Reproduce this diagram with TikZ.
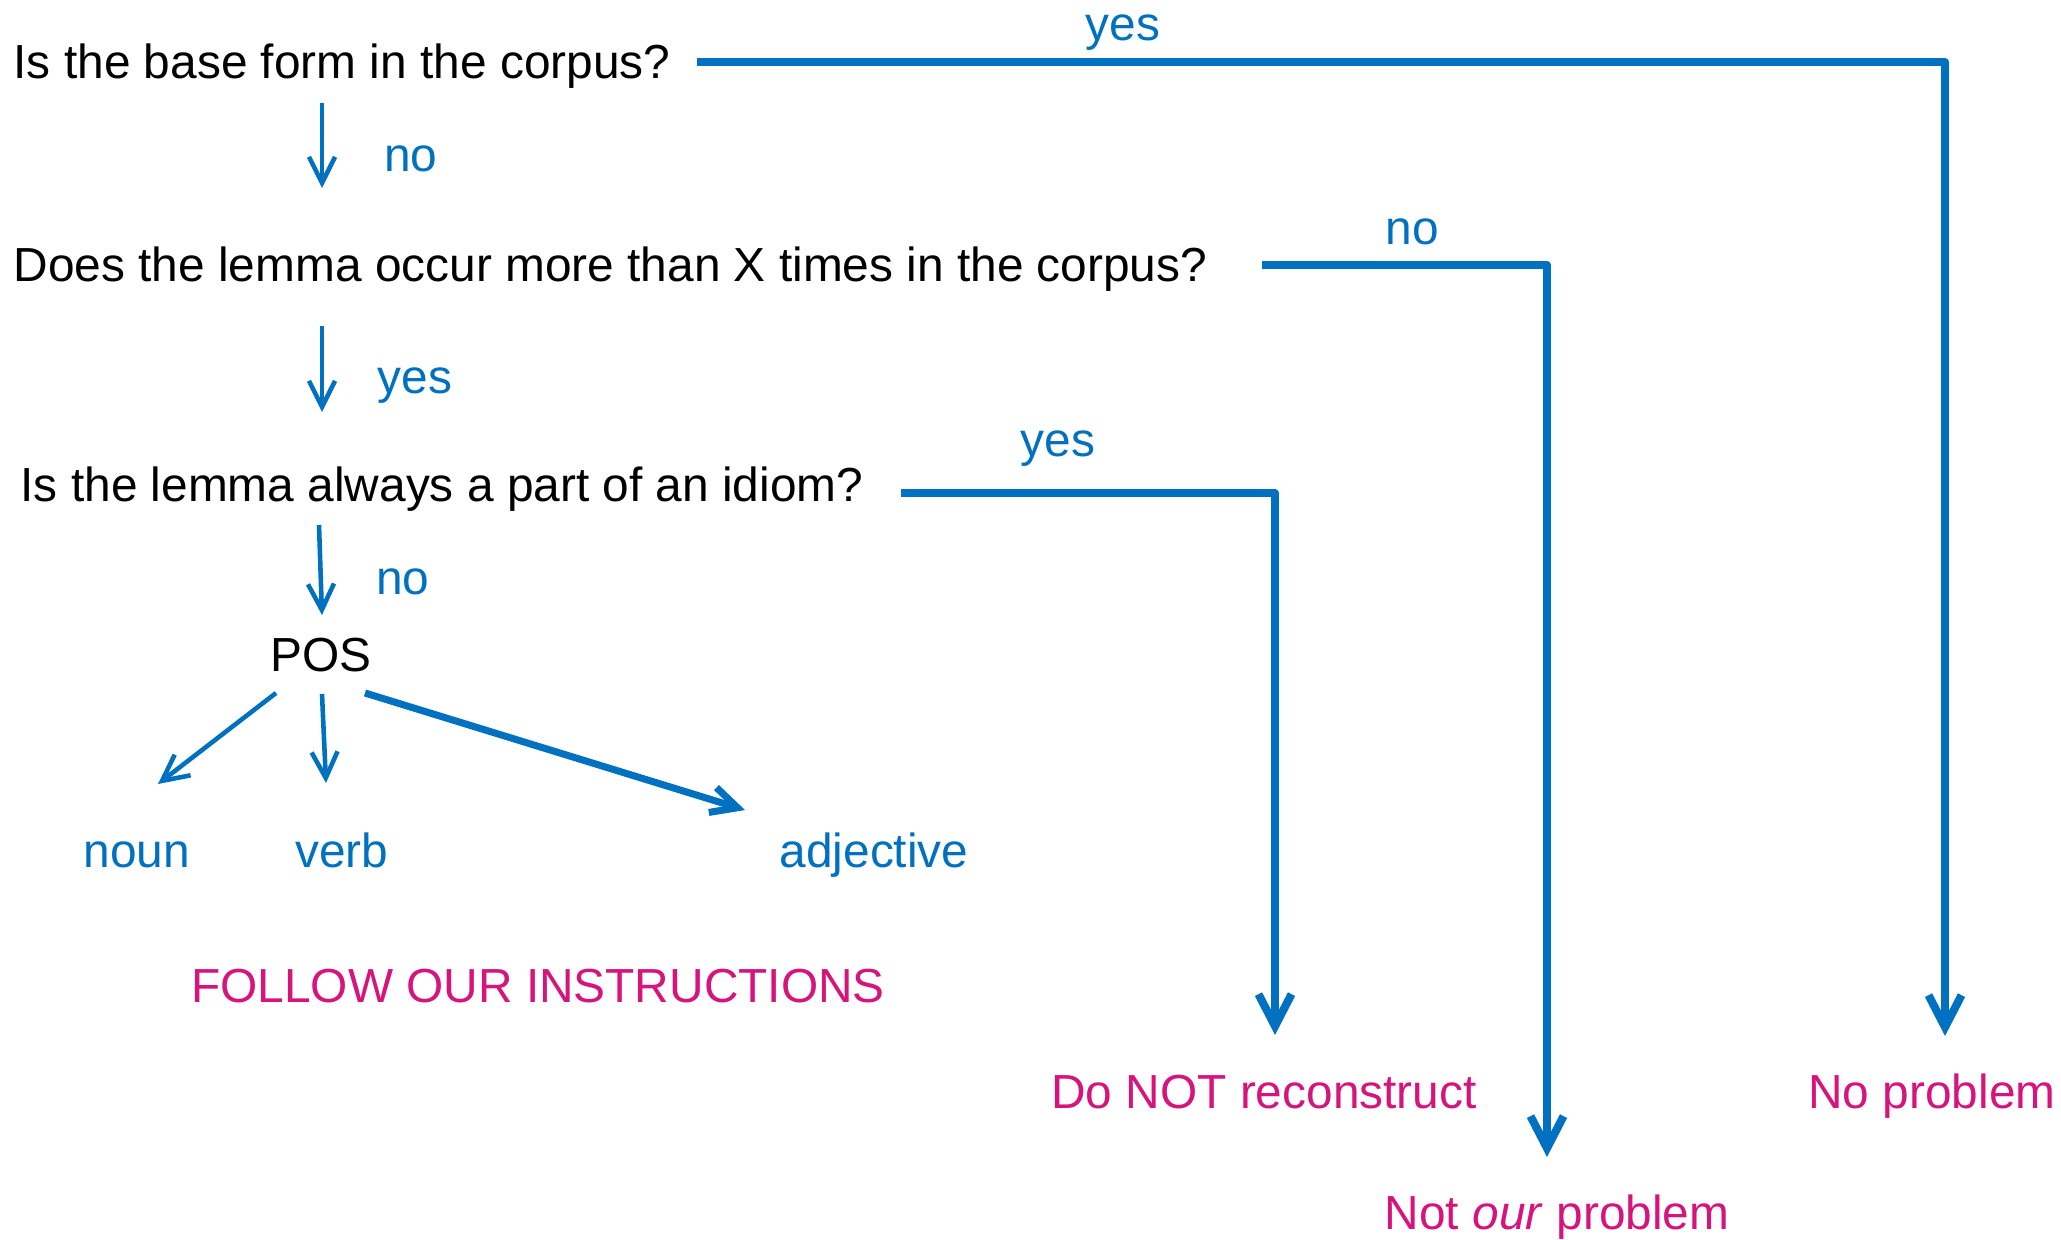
\documentclass[tikz,border=0pt]{standalone}
\usepackage{fontspec}
\setmainfont{Liberation Sans}
\usepackage{xcolor}
\usepackage{tikz}
\usetikzlibrary{arrows.meta,positioning,calc}

\definecolor{flowblue}{RGB}{0,112,192}
\definecolor{verdict}{RGB}{214,20,124}

\tikzset{
  question/.style={inner sep=0pt, anchor=base west, text=black},
  answer/.style={inner sep=0pt, anchor=base, text=flowblue},
  outcome/.style={inner sep=0pt, anchor=base, text=verdict},
  smallarrow/.style={draw=flowblue, line width=1.3pt, -{Straight Barb[length=2.6mm,width=2.6mm]}},
  bigarrow/.style={draw=flowblue, line width=2.3pt, line join=round, -{Straight Barb[length=3.2mm,width=3.3mm]}}
}

\begin{document}
\begin{tikzpicture}[x=0.01cm, y=-0.01cm, every node/.style={font=\fontsize{13.6pt}{16pt}\selectfont}]

\useasboundingbox (0,0) rectangle (2061,1240);

% questions
\node[question] (q1) at (13,79) {Is the base form in the corpus?};
\node[question] (q2) at (13,282) {Does the lemma occur more than X times in the corpus?};
\node[question] (q3) at (20,502) {Is the lemma always a part of an idiom?};
\node[inner sep=0pt, anchor=base] (pos) at (321,672) {POS};

% parts of speech
\node[answer] (noun) at (137,867) {noun};
\node[answer] (verb) at (342,867) {verb};
\node[answer] (adj) at (874,867) {adjective};

% outcomes
\node[outcome] (follow) at (538,1002) {FOLLOW OUR INSTRUCTIONS};
\node[outcome] (dont) at (1264,1108) {Do NOT reconstruct};
\node[outcome] (notour) at (1557,1229) {Not \textit{our} problem};
\node[outcome] (noprob) at (1932,1108) {No problem};

% answer labels
\node[answer] (yes1) at (1123,41) {yes};
\node[answer] (no1) at (411,172) {no};
\node[answer] (no2) at (1412,245) {no};
\node[answer] (yes2) at (415,394) {yes};
\node[answer] (yes3) at (1058,457) {yes};
\node[answer] (no3) at (403,595) {no};

% main chain
\draw[smallarrow] ([shift={(309,24)}]q1.base west) -- ([shift={(309,-94)}]q2.base west);
\draw[smallarrow] ([shift={(309,44)}]q2.base west) -- ([shift={(302,-90)}]q3.base west);
\draw[smallarrow] ([shift={(299,23)}]q3.base west) -- ([shift={(1,-57)}]pos.base);

% POS branches
\draw[smallarrow] ([shift={(-45,21)}]pos.base) -- ([shift={(21,-83)}]noun.base);
\draw[smallarrow] ([shift={(1,22)}]pos.base) -- ([shift={(-16,-84)}]verb.base);
\draw[smallarrow, line width=2pt] ([shift={(44,21)}]pos.base) -- ([shift={(-129,-57)}]adj.base);

% exits
\draw[bigarrow] ([shift={(26,-17)}]q1.base east) -| ([shift={(13,-72)}]noprob.base);
\draw[bigarrow] ([shift={(54,-17)}]q2.base east) -| ([shift={(-10,-72)}]notour.base);
\draw[bigarrow] ([shift={(37,-9)}]q3.base east) -| ([shift={(11,-73)}]dont.base);

\end{tikzpicture}
\end{document}
